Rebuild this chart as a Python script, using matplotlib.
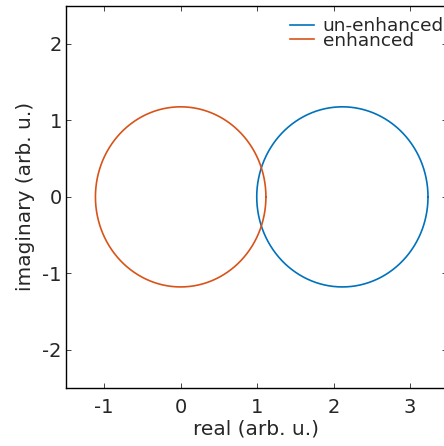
import numpy as np
import matplotlib
matplotlib.use("Agg")
import matplotlib.pyplot as plt

# Response loci in the complex plane
t = np.linspace(0, 2 * np.pi, 721)
unenh_center = (2.115, 0.0)
unenh_radius = (1.12, 1.178)
enh_center = (0.0, 0.0)
enh_radius = (1.115, 1.178)

xticks = [-1, 0, 1, 2, 3]
yticks = [-2, -1, 0, 1, 2]

blue = "#0072BD"
orange = "#D95319"
textc = "#262626"

px_per_unit = 76.45
x_lo, x_hi = -1.5, 3.48
y_lo, y_hi = -2.5, 2.5

fig = plt.figure(figsize=(4.44, 4.46), dpi=100)
ax = fig.add_axes([66 / 444, 58 / 446,
                   (x_hi - x_lo) * px_per_unit / 444,
                   (y_hi - y_lo) * px_per_unit / 446])

ax.plot(unenh_center[0] + unenh_radius[0] * np.cos(t),
        unenh_center[1] + unenh_radius[1] * np.sin(t),
        color=blue, lw=1.2, label="un-enhanced")
ax.plot(enh_center[0] + enh_radius[0] * np.cos(t),
        enh_center[1] + enh_radius[1] * np.sin(t),
        color=orange, lw=1.2, label="enhanced")

ax.set_xlim(x_lo, x_hi)
ax.set_ylim(y_lo, y_hi)
ax.set_xticks(xticks)
ax.set_yticks(yticks)
ax.set_xticklabels([str(v) for v in xticks])
ax.set_yticklabels([str(v) for v in yticks])
ax.tick_params(direction="in", top=True, right=True, length=3.5, width=0.6,
               labelsize=14, labelcolor=textc, colors=textc)
ax.tick_params(axis="x", pad=7)
ax.tick_params(axis="y", pad=3)
for s in ax.spines.values():
    s.set_linewidth(1.0)
    s.set_color("black")

ax.set_xlabel("real (arb. u.)", fontsize=14.5, color=textc, labelpad=2)
ax.set_ylabel("imaginary (arb. u.)", fontsize=14.5, color=textc, labelpad=5)

leg = ax.legend(loc="upper left", bbox_to_anchor=(0.555, 1.004), frameon=False,
                fontsize=13.3, handlelength=1.3, handletextpad=0.45,
                labelspacing=-0.19, borderpad=0.2)
for txt in leg.get_texts():
    txt.set_color(textc)

fig.savefig("out.png", dpi=100)
